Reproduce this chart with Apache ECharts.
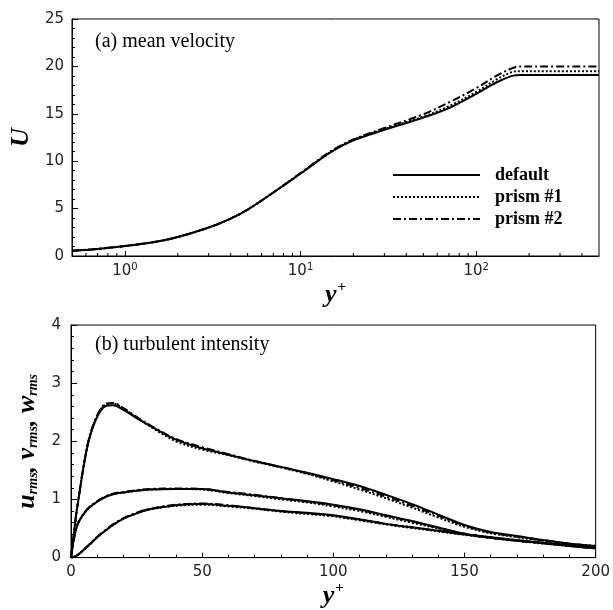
<!DOCTYPE html>
<html><head><meta charset="utf-8">
<script src="https://cdn.jsdelivr.net/npm/echarts@6/dist/echarts.min.js"></script>
<style>html,body{margin:0;padding:0;background:#fff}#c{width:613px;height:610px}</style>
</head><body><div id="c"></div><script>
// ---- data: (a) mean velocity ----
const yPlusTop = [0.5, 0.7, 1, 1.5, 2, 3, 4, 5, 7, 10, 15, 20, 30, 50, 70, 100, 130, 160, 180, 250, 500];
const uDefault = [0.55, 0.75, 1.05, 1.5, 2.0, 3.0, 3.95, 4.9, 6.7, 8.7, 11.0, 12.2, 13.3, 14.6, 15.6, 17.1, 18.3, 19.0, 19.1, 19.1, 19.1];
const uPrism1  = [0.55, 0.75, 1.05, 1.5, 2.0, 3.0, 3.95, 4.9, 6.7, 8.7, 11.0, 12.25, 13.4, 14.7, 15.8, 17.3, 18.6, 19.4, 19.5, 19.5, 19.5];
const uPrism2  = [0.55, 0.75, 1.05, 1.5, 2.0, 3.0, 3.95, 4.9, 6.7, 8.75, 11.1, 12.3, 13.5, 14.95, 16.2, 17.7, 19.0, 19.8, 20.0, 20.0, 20.0];
const logMinorTicks = [0.6, 0.7, 0.8, 0.9, 2, 3, 4, 5, 6, 7, 8, 9, 20, 30, 40, 50, 60, 70, 80, 90, 200, 300, 400];
const caseNames = ['default', 'prism #1', 'prism #2'];

// ---- data: (b) turbulent intensity ----
const yPlusBottom = [0, 1, 2, 3, 5, 7, 10, 13, 16, 20, 25, 30, 40, 50, 60, 70, 80, 90, 100, 110, 120, 130, 140, 150, 160, 170, 180, 190, 200];
const uRmsDefault = [0, 0.37, 0.75, 1.05, 1.62, 2.05, 2.42, 2.6, 2.62, 2.54, 2.4, 2.27, 2.03, 1.88, 1.77, 1.66, 1.56, 1.46, 1.35, 1.23, 1.08, 0.92, 0.74, 0.56, 0.44, 0.37, 0.3, 0.24, 0.2];
const uRmsPrism1  = [0, 0.37, 0.75, 1.05, 1.62, 2.06, 2.44, 2.63, 2.65, 2.56, 2.41, 2.26, 2.0, 1.86, 1.76, 1.65, 1.55, 1.44, 1.31, 1.17, 1.02, 0.86, 0.69, 0.53, 0.42, 0.35, 0.29, 0.24, 0.2];
const uRmsPrism2  = [0, 0.37, 0.75, 1.05, 1.63, 2.07, 2.45, 2.64, 2.66, 2.57, 2.42, 2.28, 2.04, 1.9, 1.78, 1.66, 1.56, 1.45, 1.33, 1.2, 1.05, 0.89, 0.72, 0.55, 0.43, 0.36, 0.3, 0.24, 0.2];
const wRmsDefault = [0, 0.3, 0.5, 0.62, 0.76, 0.86, 0.96, 1.04, 1.09, 1.12, 1.15, 1.17, 1.18, 1.18, 1.12, 1.07, 1.02, 0.97, 0.91, 0.83, 0.73, 0.63, 0.52, 0.41, 0.34, 0.29, 0.25, 0.21, 0.17];
const wRmsPrism1  = [0, 0.3, 0.5, 0.62, 0.76, 0.86, 0.96, 1.04, 1.09, 1.12, 1.15, 1.17, 1.18, 1.17, 1.11, 1.06, 1.0, 0.95, 0.88, 0.8, 0.7, 0.6, 0.5, 0.4, 0.34, 0.29, 0.25, 0.21, 0.17];
const wRmsPrism2  = [0, 0.3, 0.5, 0.62, 0.77, 0.87, 0.97, 1.05, 1.1, 1.13, 1.16, 1.18, 1.19, 1.18, 1.13, 1.08, 1.02, 0.96, 0.9, 0.82, 0.72, 0.62, 0.51, 0.41, 0.34, 0.29, 0.25, 0.21, 0.17];
const vRmsDefault = [0, 0.01, 0.03, 0.06, 0.14, 0.22, 0.35, 0.46, 0.56, 0.67, 0.76, 0.83, 0.9, 0.92, 0.89, 0.85, 0.8, 0.77, 0.73, 0.66, 0.58, 0.52, 0.46, 0.4, 0.35, 0.3, 0.25, 0.2, 0.16];
const vRmsPrism1  = [0, 0.01, 0.03, 0.06, 0.14, 0.22, 0.35, 0.46, 0.56, 0.67, 0.76, 0.83, 0.89, 0.91, 0.88, 0.84, 0.79, 0.75, 0.71, 0.64, 0.57, 0.51, 0.45, 0.39, 0.34, 0.29, 0.24, 0.2, 0.16];
const vRmsPrism2  = [0, 0.01, 0.03, 0.06, 0.14, 0.23, 0.36, 0.47, 0.57, 0.68, 0.77, 0.84, 0.91, 0.93, 0.9, 0.85, 0.8, 0.76, 0.72, 0.65, 0.58, 0.52, 0.46, 0.4, 0.35, 0.3, 0.25, 0.2, 0.16];

// ---- styles ----
const serif = '"Liberation Serif","Times New Roman",serif';
const sans = '"DejaVu Sans","Liberation Sans",sans-serif';
const lineTypes = ['solid', [2, 2], [8, 3, 2, 3]];
const zip = (xs, ys) => xs.map((x, i) => [x, ys[i]]);

const chart = echarts.init(document.getElementById('c'), null, { renderer: 'canvas' });

function lineSeries(name, xs, ys, k, xi, yi) {
  return {
    type: 'line', name: name, xAxisIndex: xi, yAxisIndex: yi,
    data: zip(xs, ys), symbol: 'none', smooth: 0.35,
    lineStyle: { color: '#000', width: 2, type: lineTypes[k] },
    itemStyle: { color: '#000' }, animation: false, silent: true
  };
}

const tickLabel = { color: '#222', fontFamily: sans, fontSize: 15 };
const axisLine = { show: true, lineStyle: { color: '#000', width: 1 } };
const nameRich = {
  i: { fontFamily: serif, fontStyle: 'italic', fontWeight: 'bold', fontSize: 26, color: '#000' },
  p: { fontFamily: serif, fontWeight: 'bold', fontSize: 15, color: '#000', padding: [0, 0, 16, 1] },
  s: { fontFamily: serif, fontStyle: 'italic', fontWeight: 'bold', fontSize: 14, color: '#000', padding: [12, 0, 0, 0] }
};

const series = [];
[uDefault, uPrism1, uPrism2].forEach((ys, k) => series.push(lineSeries(caseNames[k], yPlusTop, ys, k, 0, 0)));
const bottomSets = [
  [uRmsDefault, uRmsPrism1, uRmsPrism2],
  [wRmsDefault, wRmsPrism1, wRmsPrism2],
  [vRmsDefault, vRmsPrism1, vRmsPrism2]
];
const qNames = ['u_rms', 'w_rms', 'v_rms'];
bottomSets.forEach((set, q) => set.forEach((ys, k) =>
  series.push(lineSeries(qNames[q] + ' ' + caseNames[k], yPlusBottom, ys, k, 1, 1))));
// minor ticks of the log axis at 2..9 x 10^k
series.push({
  type: 'custom', xAxisIndex: 0, yAxisIndex: 0, silent: true, clip: false, animation: false,
  data: logMinorTicks.map(v => [v, 0]),
  renderItem: function (params, api) {
    const p = api.coord([api.value(0), 0]);
    return { type: 'line', shape: { x1: p[0], y1: p[1], x2: p[0], y2: p[1] - 3 },
      style: { stroke: '#000', lineWidth: 1 } };
  }
});

const option = {
  backgroundColor: '#fff',
  animation: false,
  title: [
    { text: '(a) mean velocity', left: 95, top: 32, padding: 0,
      textStyle: { fontFamily: serif, fontWeight: 'normal', fontSize: 20, color: '#000' } },
    { text: '(b) turbulent intensity', left: 95, top: 335, padding: 0,
      textStyle: { fontFamily: serif, fontWeight: 'normal', fontSize: 20, color: '#000' } }
  ],
  legend: {
    data: caseNames, orient: 'vertical', left: 387, top: 161,
    itemWidth: 87, itemHeight: 12, itemGap: 4, selectedMode: false,
    itemStyle: { opacity: 0, borderWidth: 0 },
    textStyle: { fontFamily: serif, fontWeight: 'bold', fontSize: 18, color: '#000', padding: [0, 0, 0, 10] }
  },
  grid: [
    { left: 71, top: 19, width: 528, height: 237, show: true, borderColor: '#000', borderWidth: 1 },
    { left: 71, top: 325, width: 528, height: 237, show: true, borderColor: '#000', borderWidth: 1 }
  ],
  xAxis: [
    { type: 'log', logBase: 10, gridIndex: 0, min: 0.5, max: 500,
      axisLine: axisLine, splitLine: { show: false },
      axisTick: { inside: true, length: 5, lineStyle: { color: '#000' } },
      axisLabel: Object.assign({}, tickLabel, {
        margin: 6, showMinLabel: false, showMaxLabel: false,
        formatter: function (v) {
          const l = Math.log10(v);
          if (Math.abs(l - Math.round(l)) > 1e-6) return '';
          return '{b|10}{e|' + Math.round(l) + '}';
        },
        rich: { b: { color: '#222', fontFamily: sans, fontSize: 15 },
                e: { color: '#222', fontFamily: sans, fontSize: 10, padding: [0, 0, 9, 0] } }
      }),
      name: '{i|y}{p|+}', nameLocation: 'middle', nameGap: 16,
      nameTextStyle: { rich: nameRich } },
    { type: 'value', gridIndex: 1, min: 0, max: 200, interval: 50,
      axisLine: axisLine, splitLine: { show: false },
      axisTick: { inside: true, length: 5, lineStyle: { color: '#000' } },
      minorTick: { show: true, splitNumber: 5, length: 3, lineStyle: { color: '#000' } },
      axisLabel: Object.assign({}, tickLabel, { margin: 7 }),
      name: '{i|y}{p|+}', nameLocation: 'middle', nameGap: 12,
      nameTextStyle: { rich: nameRich } }
  ],
  yAxis: [
    { type: 'value', gridIndex: 0, min: 0, max: 25, interval: 5,
      axisLine: axisLine, splitLine: { show: false },
      axisTick: { inside: true, length: 6, lineStyle: { color: '#000' } },
      minorTick: { show: true, splitNumber: 5, length: 3, lineStyle: { color: '#000' } },
      axisLabel: Object.assign({}, tickLabel, { margin: 8 }),
      name: '{i|U}', nameLocation: 'middle', nameRotate: 90, nameGap: 36,
      nameTextStyle: { rich: nameRich } },
    { type: 'value', gridIndex: 1, min: 0, max: 4, interval: 1,
      axisLine: axisLine, splitLine: { show: false },
      axisTick: { inside: true, length: 6, lineStyle: { color: '#000' } },
      minorTick: { show: true, splitNumber: 5, length: 3, lineStyle: { color: '#000' } },
      axisLabel: Object.assign({}, tickLabel, { margin: 10 }),
      name: '{i|u}{s|rms}{i|, v}{s|rms}{i|, w}{s|rms}', nameLocation: 'middle', nameRotate: 90, nameGap: 26,
      nameTextStyle: { rich: nameRich } }
  ],
  series: series
};
chart.setOption(option);
</script></body></html>
